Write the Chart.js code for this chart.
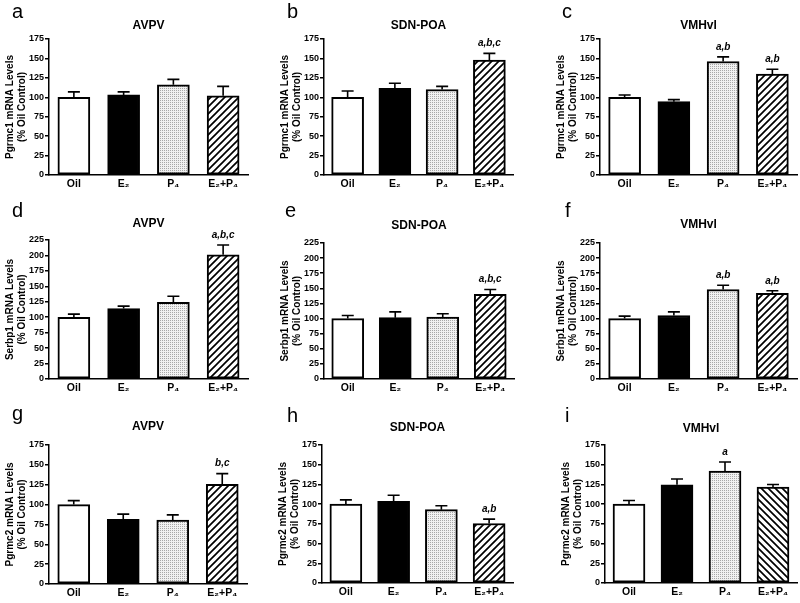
<!DOCTYPE html>
<html>
<head>
<meta charset="utf-8">
<script src="https://cdn.jsdelivr.net/npm/chart.js@4.4.0/dist/chart.umd.min.js"></script>
<style>
body { margin: 0; background: #fff; }
#wrap { position: relative; width: 800px; height: 603px; background: #fff; }
#wrap canvas { position: absolute; left: 0; top: 0; }
</style>
</head>
<body>
<div id="wrap"></div>
<script>
// treatment groups on the x axis
var groups = ["Oil", "E\u2082", "P\u2084", "E\u2082+P\u2084"];
var regions = ["AVPV", "SDN-POA", "VMHvl"];
var genes = ["Pgrmc1", "Serbp1", "Pgrmc2"];
var yMax = [175, 225, 175];
var yStep = 25;

// one row per region: AVPV, SDN-POA, VMHvl
var pgrmc1Mean = [[100, 103, 116, 102], [100, 111.5, 110, 148], [100, 94.4, 146, 130]];
var pgrmc1Sem  = [[7, 4, 7, 12], [8, 6.5, 4, 8.5], [3, 2.6, 6, 6]];
var pgrmc1Sig  = [["", "", "", ""], ["", "", "", "a,b,c"], ["", "", "a,b", "a,b"]];

var serbp1Mean = [[100, 114, 124, 201], [100, 101.5, 102.6, 140], [100, 105, 148, 141.6]];
var serbp1Sem  = [[5, 4, 10, 16], [5, 9.5, 5.4, 8], [4, 6, 7, 4.4]];
var serbp1Sig  = [["", "", "", "a,b,c"], ["", "", "", "a,b,c"], ["", "", "a,b", "a,b"]];

var pgrmc2Mean = [[100, 81.4, 80.6, 125.5], [100, 103.7, 93, 75.5], [100, 124.6, 142, 121.6]];
var pgrmc2Sem  = [[5, 6.6, 6.4, 13.5], [5.4, 7.6, 5, 5.5], [4.7, 7.2, 11.4, 3.4]];
var pgrmc2Sig  = [["", "", "", "b,c"], ["", "", "", "a,b"], ["", "", "a", ""]];

var means = [pgrmc1Mean, serbp1Mean, pgrmc2Mean];
var sems = [pgrmc1Sem, serbp1Sem, pgrmc2Sem];
var sigs = [pgrmc1Sig, serbp1Sig, pgrmc2Sig];

// layout: plot area [left, top, right, bottom] for each panel a..i
var areas = [
  [49, 39, 248, 175], [324, 39, 513, 175], [600, 39, 797, 175],
  [49, 240, 248, 379], [324, 243, 514, 379], [600, 243, 797, 379],
  [49, 445, 247, 584], [322, 445, 513, 583], [605, 445, 797, 583]
];
var letters = ["a", "b", "c", "d", "e", "f", "g", "h", "i"];
var letterPos = [[12, 18], [287, 18], [562, 18], [12, 217], [285, 217], [565, 217], [12, 420], [287, 422], [565, 422]];
var titleY = [26, 26, 26, 224, 226, 225, 427, 428, 429];

var FONT = "'Liberation Sans', Arial, 'DejaVu Sans', sans-serif";
var yw = 46, xh = 16;

function dotPattern() {
  var c = document.createElement("canvas");
  c.width = 2; c.height = 2;
  var x = c.getContext("2d");
  x.fillStyle = "#f1f1f1";
  x.fillRect(0, 0, 2, 2);
  x.fillStyle = "#a8a8a8";
  x.fillRect(0, 0, 1, 1);
  return x.createPattern(c, "repeat");
}

function hatchPattern(back) {
  var s = 7;
  var c = document.createElement("canvas");
  c.width = s; c.height = s;
  var x = c.getContext("2d");
  x.fillStyle = "#fff";
  x.fillRect(0, 0, s, s);
  x.strokeStyle = "#000";
  x.lineWidth = 1.7;
  x.beginPath();
  if (back) {
    x.moveTo(0, 0); x.lineTo(s, s);
    x.moveTo(-1, s - 1); x.lineTo(1, s + 1);
    x.moveTo(s - 1, -1); x.lineTo(s + 1, 1);
  } else {
    x.moveTo(0, s); x.lineTo(s, 0);
    x.moveTo(-1, 1); x.lineTo(1, -1);
    x.moveTo(s - 1, s + 1); x.lineTo(s + 1, s - 1);
  }
  x.stroke();
  return x.createPattern(c, "repeat");
}

var panelText = {
  id: "panelText",
  afterDraw: function(chart) {
    var o = chart.options.plugins.panelText;
    var ctx = chart.ctx, a = chart.chartArea;
    ctx.save();
    ctx.fillStyle = "#000";
    ctx.font = "20px " + FONT;
    ctx.textAlign = "left";
    ctx.textBaseline = "alphabetic";
    ctx.fillText(o.letter, o.lx, o.ly);
    ctx.font = "bold 12px " + FONT;
    ctx.textAlign = "center";
    ctx.textBaseline = "middle";
    ctx.fillText(o.title, (a.left + a.right) / 2, o.ty);
    ctx.restore();
  }
};

var errorBars = {
  id: "errorBars",
  afterDatasetsDraw: function(chart) {
    var o = chart.options.plugins.errorBars;
    var ctx = chart.ctx, y = chart.scales.y;
    var vals = chart.data.datasets[0].data;
    ctx.save();
    ctx.strokeStyle = "#000";
    ctx.fillStyle = "#000";
    ctx.lineWidth = 1.6;
    chart.getDatasetMeta(0).data.forEach(function(bar, i) {
      var top = y.getPixelForValue(vals[i] + o.sem[i]);
      ctx.beginPath();
      ctx.moveTo(bar.x, bar.y);
      ctx.lineTo(bar.x, top);
      ctx.moveTo(bar.x - 6, top);
      ctx.lineTo(bar.x + 6, top);
      ctx.stroke();
      if (o.sig[i]) {
        ctx.font = "italic bold 10px " + FONT;
        ctx.textAlign = "center";
        ctx.textBaseline = "middle";
        ctx.fillText(o.sig[i], bar.x, top - 10);
      }
    });
    ctx.restore();
  }
};

var wrap = document.getElementById("wrap");
for (var g = 0; g < 3; g++) {
  for (var r = 0; r < 3; r++) {
    var k = g * 3 + r;
    var A = areas[k];
    var cv = document.createElement("canvas");
    cv.width = 800; cv.height = 603;
    wrap.appendChild(cv);
    new Chart(cv, {
      type: "bar",
      data: {
        labels: groups,
        datasets: [{
          data: means[g][r],
          backgroundColor: ["#fff", "#000", dotPattern(), hatchPattern(k == 8)],
          borderColor: "#000",
          borderWidth: 2,
          borderSkipped: false,
          barThickness: 32
        }]
      },
      options: {
        responsive: false,
        animation: false,
        layout: { padding: { left: A[0] - yw, top: A[1], right: 800 - A[2], bottom: 603 - A[3] - xh } },
        plugins: {
          legend: { display: false },
          tooltip: { enabled: false },
          panelText: { letter: letters[k], lx: letterPos[k][0], ly: letterPos[k][1], title: regions[r], ty: titleY[k] },
          errorBars: { sem: sems[g][r], sig: sigs[g][r] }
        },
        scales: {
          x: {
            grid: { display: true, drawOnChartArea: false, drawTicks: false },
            border: { color: "#000", width: 1.5 },
            ticks: { color: "#000", padding: 3, font: { family: FONT, size: 10.5, weight: "bold" } },
            afterFit: function(s) { s.height = xh; }
          },
          y: {
            min: 0,
            max: yMax[g],
            ticks: { stepSize: yStep, color: "#000", padding: 1, font: { family: FONT, size: 9, weight: "bold" } },
            grid: { drawOnChartArea: false, drawTicks: true, tickLength: 4, color: "#000", lineWidth: 1.5 },
            border: { color: "#000", width: 1.5 },
            title: {
              display: true,
              text: [genes[g] + " mRNA Levels", "(% Oil Control)"],
              color: "#000",
              font: { family: FONT, size: 10, weight: "bold", lineHeight: 1.2 },
              padding: { top: 1, bottom: 0 }
            },
            afterFit: function(s) { s.width = yw; }
          }
        }
      },
      plugins: [panelText, errorBars]
    });
  }
}
</script>
</body>
</html>
